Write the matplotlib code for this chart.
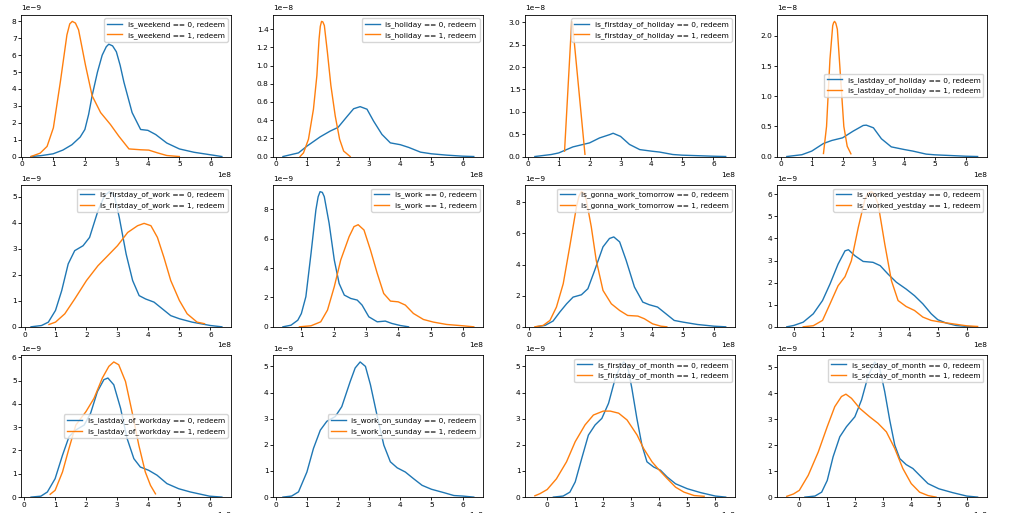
import matplotlib
matplotlib.use("Agg")
import matplotlib.pyplot as plt
from matplotlib.ticker import MultipleLocator
import numpy as np

# x values in units of 1e8, y values in units of 10**y_exp[panel]
panels = ["is_weekend", "is_holiday", "is_firstday_of_holiday", "is_lastday_of_holiday",
          "is_firstday_of_work", "is_work", "is_gonna_work_tomorrow", "is_worked_yestday",
          "is_lastday_of_workday", "is_work_on_sunday", "is_firstday_of_month", "is_secday_of_month"]
y_exp = [-9, -8, -8, -8, -9, -9, -9, -9, -9, -9, -9, -9]
y_step = [1, 0.2, 0.5, 0.5, 1, 2, 2, 1, 1, 1, 1, 1]
legend_loc = ["upper right", "upper right", "upper right", "center right",
              "upper right", "upper right", "upper right", "upper right",
              "center right", "center right", "upper right", "upper right"]

weekend0_x = [0.29, 0.6, 0.99, 1.3, 1.59, 1.85, 2.0, 2.12, 2.23, 2.4, 2.55, 2.68, 2.76, 2.88, 3.0, 3.12, 3.24, 3.5, 3.77, 4.0, 4.25, 4.6, 5.0, 5.47, 6.0, 6.35]
weekend0_y = [0.0, 0.05, 0.16, 0.38, 0.7, 1.15, 1.6, 2.5, 3.6, 5.0, 6.0, 6.5, 6.65, 6.55, 6.2, 5.4, 4.4, 2.6, 1.6, 1.55, 1.3, 0.8, 0.45, 0.25, 0.1, 0.0]
weekend1_x = [0.29, 0.58, 0.8, 1.0, 1.22, 1.43, 1.52, 1.6, 1.7, 1.8, 2.02, 2.23, 2.5, 2.81, 3.08, 3.4, 3.77, 4.03, 4.3, 4.6, 5.0]
weekend1_y = [0.0, 0.2, 0.6, 1.7, 4.4, 7.2, 7.85, 8.0, 7.9, 7.5, 5.4, 3.6, 2.6, 1.9, 1.2, 0.45, 0.4, 0.38, 0.22, 0.06, 0.0]

holiday0_x = [0.23, 0.73, 1.0, 1.43, 1.75, 2.0, 2.29, 2.5, 2.71, 2.93, 3.14, 3.41, 3.68, 4.0, 4.27, 4.65, 5.0, 5.5, 6.0, 6.36]
holiday0_y = [0.0, 0.04, 0.114, 0.217, 0.28, 0.32, 0.44, 0.525, 0.548, 0.52, 0.39, 0.243, 0.15, 0.13, 0.1, 0.048, 0.03, 0.015, 0.004, 0.0]
holiday1_x = [0.78, 0.89, 1.05, 1.21, 1.32, 1.39, 1.43, 1.47, 1.51, 1.56, 1.66, 1.77, 1.91, 2.05, 2.18, 2.39]
holiday1_y = [0.0, 0.04, 0.19, 0.52, 0.89, 1.29, 1.43, 1.485, 1.48, 1.44, 1.14, 0.78, 0.445, 0.19, 0.06, 0.0]

fholiday0_x = [0.23, 0.76, 1.0, 1.46, 1.79, 2.0, 2.32, 2.65, 2.76, 3.0, 3.29, 3.62, 4.0, 4.26, 4.69, 5.0, 6.0, 6.4]
fholiday0_y = [0.0, 0.045, 0.08, 0.215, 0.27, 0.305, 0.415, 0.49, 0.52, 0.45, 0.27, 0.155, 0.12, 0.1, 0.045, 0.03, 0.007, 0.0]
fholiday1_x = [1.19, 1.42, 1.45, 1.85]
fholiday1_y = [0.12, 3.02, 2.95, 0.05]

lholiday0_x = [0.19, 0.68, 1.0, 1.38, 1.65, 2.0, 2.34, 2.67, 2.77, 3.0, 3.26, 3.58, 4.0, 4.28, 4.71, 5.0, 6.0, 6.38]
lholiday0_y = [0.0, 0.03, 0.09, 0.216, 0.266, 0.31, 0.42, 0.515, 0.52, 0.476, 0.294, 0.16, 0.116, 0.09, 0.04, 0.028, 0.005, 0.0]
lholiday1_x = [1.38, 1.48, 1.59, 1.68, 1.71, 1.74, 1.78, 1.83, 1.91, 2.04, 2.15, 2.27]
lholiday1_y = [0.05, 0.5, 1.61, 2.17, 2.22, 2.24, 2.21, 2.11, 1.5, 0.5, 0.17, 0.045]

fwork0_x = [0.21, 0.55, 0.77, 1.0, 1.2, 1.41, 1.62, 1.89, 2.1, 2.37, 2.58, 2.74, 2.9, 3.06, 3.28, 3.49, 3.7, 3.91, 4.18, 4.45, 4.72, 5.0, 5.41, 6.0, 6.37]
fwork0_y = [0.0, 0.05, 0.18, 0.63, 1.39, 2.42, 2.93, 3.12, 3.44, 4.46, 5.04, 5.2, 5.04, 4.2, 2.8, 1.78, 1.2, 1.07, 0.95, 0.69, 0.43, 0.31, 0.18, 0.05, 0.0]
fwork1_x = [0.79, 1.0, 1.3, 1.62, 2.0, 2.37, 2.69, 3.0, 3.33, 3.65, 3.86, 4.08, 4.29, 4.5, 4.72, 5.0, 5.25, 5.57, 5.81]
fwork1_y = [0.09, 0.18, 0.5, 1.07, 1.78, 2.35, 2.74, 3.12, 3.63, 3.89, 3.98, 3.89, 3.44, 2.67, 1.78, 1.01, 0.5, 0.18, 0.12]

work0_x = [0.43, 0.68, 0.89, 1.0, 1.14, 1.3, 1.45, 1.52, 1.58, 1.65, 1.71, 1.86, 2.02, 2.17, 2.33, 2.53, 2.73, 2.88, 3.09, 3.35, 3.6, 3.8, 4.06, 4.32]
work0_y = [0.0, 0.11, 0.45, 0.9, 2.05, 5.0, 7.95, 8.85, 9.2, 9.15, 8.86, 7.05, 4.55, 2.95, 2.16, 1.93, 1.82, 1.48, 0.68, 0.34, 0.39, 0.23, 0.09, 0.0]
work1_x = [0.94, 1.3, 1.6, 1.81, 2.02, 2.22, 2.48, 2.63, 2.76, 2.94, 3.14, 3.35, 3.55, 3.76, 4.0, 4.22, 4.47, 4.78, 5.09, 5.5, 6.0, 6.34]
work1_y = [0.0, 0.07, 0.34, 1.14, 2.73, 4.55, 6.14, 6.82, 6.95, 6.59, 5.23, 3.64, 2.27, 1.75, 1.7, 1.48, 0.91, 0.5, 0.32, 0.16, 0.07, 0.0]

gonna0_x = [0.22, 0.52, 0.78, 1.0, 1.22, 1.43, 1.7, 1.91, 2.13, 2.4, 2.61, 2.75, 2.94, 3.15, 3.42, 3.69, 3.9, 4.17, 4.44, 4.71, 5.0, 5.46, 6.0, 6.38]
gonna0_y = [0.0, 0.09, 0.37, 0.95, 1.48, 1.91, 2.06, 2.45, 3.63, 5.14, 5.68, 5.78, 5.46, 4.28, 2.56, 1.59, 1.42, 1.27, 0.84, 0.41, 0.3, 0.15, 0.04, 0.0]
gonna1_x = [0.19, 0.46, 0.68, 0.89, 1.11, 1.32, 1.54, 1.62, 1.7, 1.78, 1.86, 2.02, 2.18, 2.4, 2.67, 2.94, 3.2, 3.53, 3.74, 4.01, 4.28, 4.47]
gonna1_y = [0.0, 0.09, 0.41, 1.27, 2.77, 5.14, 7.72, 8.4, 8.69, 8.6, 8.15, 6.43, 4.28, 2.34, 1.48, 1.05, 0.73, 0.69, 0.52, 0.19, 0.04, 0.0]

wyest0_x = [-0.24, 0.0, 0.33, 0.68, 1.0, 1.26, 1.54, 1.78, 1.9, 2.12, 2.41, 2.75, 3.0, 3.27, 3.56, 3.9, 4.19, 4.48, 4.77, 5.0, 5.29, 5.63, 6.0, 6.32]
wyest0_y = [0.0, 0.06, 0.21, 0.59, 1.19, 1.94, 2.84, 3.44, 3.49, 3.22, 2.96, 2.92, 2.77, 2.39, 2.02, 1.71, 1.41, 1.04, 0.59, 0.32, 0.17, 0.06, 0.015, 0.0]
wyest1_x = [0.33, 0.68, 1.0, 1.26, 1.54, 1.78, 2.0, 2.24, 2.47, 2.58, 2.7, 2.8, 2.93, 3.16, 3.39, 3.62, 3.9, 4.19, 4.48, 4.77, 5.12, 5.52, 6.0, 6.38]
wyest1_y = [0.0, 0.05, 0.29, 1.04, 1.86, 2.27, 2.99, 4.5, 5.77, 6.05, 6.12, 6.0, 5.55, 3.74, 2.09, 1.19, 0.92, 0.74, 0.44, 0.29, 0.21, 0.135, 0.045, 0.015]

lwork0_x = [0.22, 0.54, 0.75, 1.0, 1.24, 1.45, 1.67, 1.94, 2.15, 2.37, 2.58, 2.71, 2.9, 3.12, 3.33, 3.55, 3.76, 4.03, 4.3, 4.62, 5.0, 5.38, 6.0, 6.4]
lwork0_y = [0.0, 0.04, 0.22, 0.79, 1.8, 2.59, 2.88, 3.09, 3.6, 4.53, 5.04, 5.11, 4.82, 3.81, 2.52, 1.65, 1.29, 1.15, 0.94, 0.58, 0.36, 0.22, 0.04, 0.0]
lwork1_x = [0.84, 1.0, 1.24, 1.45, 1.67, 2.0, 2.26, 2.53, 2.74, 2.9, 3.06, 3.28, 3.49, 3.71, 3.92, 4.09, 4.25]
lwork1_y = [0.12, 0.29, 1.08, 2.09, 3.09, 3.67, 4.24, 5.11, 5.61, 5.8, 5.68, 4.96, 3.67, 2.23, 1.08, 0.5, 0.14]

sunday0_x = [0.23, 0.51, 0.73, 1.0, 1.21, 1.43, 1.64, 1.91, 2.12, 2.39, 2.55, 2.71, 2.88, 3.04, 3.25, 3.47, 3.68, 3.9, 4.16, 4.43, 4.7, 5.0, 5.4, 5.72, 6.0, 6.36]
sunday0_y = [0.0, 0.04, 0.2, 0.96, 1.86, 2.56, 2.9, 3.08, 3.46, 4.42, 4.94, 5.17, 5.0, 4.3, 3.14, 1.99, 1.35, 1.12, 0.96, 0.7, 0.45, 0.3, 0.17, 0.06, 0.04, 0.0]
sunday1_x = []
sunday1_y = []

fmonth0_x = [0.22, 0.57, 0.81, 1.0, 1.23, 1.47, 1.71, 1.95, 2.19, 2.43, 2.61, 2.73, 2.87, 3.02, 3.2, 3.38, 3.56, 3.8, 4.04, 4.28, 4.58, 5.0, 5.48, 6.0, 6.37]
fmonth0_y = [0.0, 0.04, 0.19, 0.58, 1.47, 2.37, 2.76, 3.01, 3.59, 4.55, 5.0, 5.17, 5.0, 4.17, 3.01, 1.99, 1.35, 1.15, 1.03, 0.77, 0.51, 0.32, 0.17, 0.04, 0.0]
fmonth1_x = [-0.44, -0.26, 0.0, 0.33, 0.69, 1.0, 1.35, 1.65, 2.0, 2.25, 2.55, 2.85, 3.21, 3.44, 3.74, 4.0, 4.28, 4.58, 4.88, 5.24, 5.6]
fmonth1_y = [0.05, 0.13, 0.29, 0.7, 1.35, 2.12, 2.76, 3.14, 3.29, 3.29, 3.21, 2.95, 2.37, 1.86, 1.35, 1.03, 0.71, 0.38, 0.19, 0.06, 0.03]

smonth0_x = [0.2, 0.56, 0.8, 1.0, 1.21, 1.45, 1.69, 1.99, 2.23, 2.46, 2.7, 2.88, 3.06, 3.24, 3.42, 3.6, 3.83, 4.07, 4.31, 4.61, 5.0, 5.5, 6.0, 6.39]
smonth0_y = [0.0, 0.04, 0.19, 0.64, 1.55, 2.32, 2.71, 3.09, 3.74, 4.64, 5.2, 4.96, 4.06, 2.96, 2.0, 1.48, 1.25, 1.1, 0.84, 0.52, 0.32, 0.17, 0.04, 0.0]
smonth1_x = [-0.45, -0.21, 0.0, 0.32, 0.68, 1.0, 1.27, 1.51, 1.67, 1.87, 2.17, 2.52, 2.82, 3.12, 3.42, 3.71, 4.01, 4.31, 4.61, 4.9]
smonth1_y = [0.03, 0.12, 0.26, 0.84, 1.74, 2.71, 3.48, 3.87, 3.96, 3.8, 3.41, 3.09, 2.84, 2.51, 1.87, 1.1, 0.52, 0.19, 0.06, 0.0]

curves0 = [(weekend0_x, weekend0_y), (holiday0_x, holiday0_y), (fholiday0_x, fholiday0_y), (lholiday0_x, lholiday0_y),
           (fwork0_x, fwork0_y), (work0_x, work0_y), (gonna0_x, gonna0_y), (wyest0_x, wyest0_y),
           (lwork0_x, lwork0_y), (sunday0_x, sunday0_y), (fmonth0_x, fmonth0_y), (smonth0_x, smonth0_y)]
curves1 = [(weekend1_x, weekend1_y), (holiday1_x, holiday1_y), (fholiday1_x, fholiday1_y), (lholiday1_x, lholiday1_y),
           (fwork1_x, fwork1_y), (work1_x, work1_y), (gonna1_x, gonna1_y), (wyest1_x, wyest1_y),
           (lwork1_x, lwork1_y), (sunday1_x, sunday1_y), (fmonth1_x, fmonth1_y), (smonth1_x, smonth1_y)]

X_EXP = 8
FS = 5.3
plt.rcParams.update({
    "font.family": "DejaVu Sans",
    "font.size": FS,
    "xtick.labelsize": FS,
    "ytick.labelsize": FS,
    "legend.fontsize": FS,
    "axes.linewidth": 0.6,
    "xtick.major.width": 0.6,
    "ytick.major.width": 0.6,
    "xtick.major.size": 2.0,
    "ytick.major.size": 2.0,
    "xtick.major.pad": 1.5,
    "ytick.major.pad": 1.5,
})

fig, axes = plt.subplots(3, 4, figsize=(10.13, 5.13), dpi=100)
fig.subplots_adjust(left=0.0212, right=0.9745, top=0.9715, bottom=0.031, wspace=0.2, hspace=0.2)

for i, ax in enumerate(axes.flat):
    name = panels[i]
    x0, y0 = curves0[i]
    x1, y1 = curves1[i]
    ys = 10.0 ** y_exp[i]
    ax.plot(np.array(x0) * 10.0 ** X_EXP, np.array(y0) * ys, color="#1f77b4", lw=1.0,
            label=f"{name} == 0, redeem")
    ax.plot(np.array(x1) * 10.0 ** X_EXP, np.array(y1) * ys, color="#ff7f0e", lw=1.0,
            label=f"{name} == 1, redeem")
    ax.set_ylim(0, None)
    ax.xaxis.set_major_locator(MultipleLocator(1.0 * 10.0 ** X_EXP))
    ax.yaxis.set_major_locator(MultipleLocator(y_step[i] * ys))
    ax.ticklabel_format(axis="x", style="sci", scilimits=(X_EXP, X_EXP))
    ax.ticklabel_format(axis="y", style="sci", scilimits=(y_exp[i], y_exp[i]))
    ax.legend(loc=legend_loc[i], frameon=True, fancybox=True, framealpha=0.8,
              borderpad=0.4, labelspacing=0.5, handlelength=2.0, borderaxespad=0.5)

fig.savefig("out.png", dpi=100)
